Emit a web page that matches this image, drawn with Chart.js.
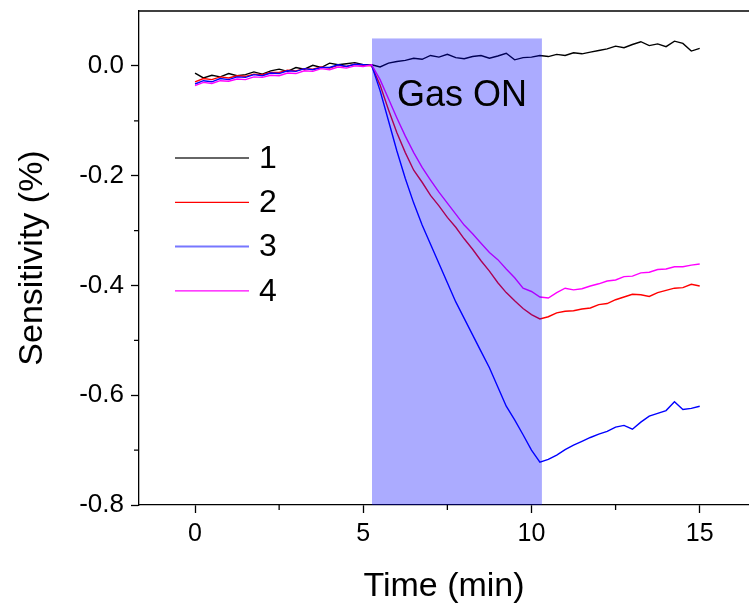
<!DOCTYPE html>
<html>
<head>
<meta charset="utf-8">
<script src="https://cdn.jsdelivr.net/npm/chart.js@4"></script>
<style>
  body { margin: 0; background: #fff; }
  #wrap { width: 749px; height: 612px; }
</style>
</head>
<body>
<div id="wrap"><canvas id="chart"></canvas></div>
<script>
var times = [0, 0.25, 0.5, 0.75, 1, 1.25, 1.5, 1.75, 2, 2.25, 2.5, 2.75, 3, 3.25, 3.5, 3.75, 4, 4.25, 4.5, 4.75,
  5, 5.25, 5.5, 5.75, 6, 6.25, 6.5, 6.75, 7, 7.25, 7.5, 7.75, 8, 8.25, 8.5, 8.75, 9, 9.25, 9.5, 9.75,
  10, 10.25, 10.5, 10.75, 11, 11.25, 11.5, 11.75, 12, 12.25, 12.5, 12.75, 13, 13.25, 13.5, 13.75, 14, 14.25, 14.5, 14.75, 15];

var seriesNames = ['1', '2', '3', '4'];

var s1 = [-0.013, -0.022, -0.017, -0.020, -0.014, -0.018, -0.016, -0.011, -0.015, -0.009, -0.006, -0.010, -0.003, -0.006, 0.001, -0.003, 0.005, 0.002, 0.004, 0.006, 0.002, 0.002,
  -0.002, 0.005, 0.008, 0.010, 0.014, 0.012, 0.019, 0.016, 0.021, 0.015, 0.013, 0.017, 0.019, 0.014, 0.018, 0.023, 0.011, 0.015, 0.016, 0.019,
  0.017, 0.021, 0.019, 0.024, 0.022, 0.025, 0.028, 0.031, 0.036, 0.033, 0.039, 0.044, 0.037, 0.040, 0.035, 0.045, 0.041, 0.027, 0.032];

var s2 = [-0.029, -0.023, -0.025, -0.020, -0.022, -0.018, -0.019, -0.015, -0.016, -0.012, -0.012, -0.008, -0.009, -0.005, -0.006, -0.002, -0.004, 0.001, -0.001, 0.003, 0.001, 0.000,
  -0.035, -0.080, -0.122, -0.158, -0.190, -0.212, -0.236, -0.255, -0.276, -0.294, -0.315, -0.334, -0.355, -0.374, -0.395, -0.413, -0.428, -0.442, -0.453, -0.461,
  -0.457, -0.450, -0.447, -0.446, -0.443, -0.441, -0.435, -0.433, -0.426, -0.421, -0.416, -0.417, -0.420, -0.413, -0.409, -0.405, -0.404, -0.398, -0.401];

var s3 = [-0.033, -0.027, -0.029, -0.023, -0.025, -0.020, -0.021, -0.016, -0.018, -0.013, -0.014, -0.009, -0.010, -0.005, -0.007, -0.003, -0.003, 0.002, -0.001, 0.003, 0.002, 0.001,
  -0.045, -0.100, -0.155, -0.205, -0.250, -0.290, -0.325, -0.360, -0.395, -0.430, -0.460, -0.490, -0.520, -0.550, -0.585, -0.620, -0.645, -0.672, -0.700, -0.722,
  -0.717, -0.709, -0.699, -0.691, -0.684, -0.677, -0.671, -0.666, -0.658, -0.655, -0.662, -0.649, -0.638, -0.633, -0.628, -0.612, -0.626, -0.624, -0.620];

var s4 = [-0.036, -0.030, -0.032, -0.027, -0.028, -0.024, -0.025, -0.020, -0.021, -0.017, -0.018, -0.013, -0.014, -0.009, -0.010, -0.005, -0.007, -0.002, -0.004, 0.000, -0.001, 0.002,
  -0.025, -0.060, -0.095, -0.128, -0.158, -0.185, -0.208, -0.230, -0.250, -0.270, -0.290, -0.306, -0.323, -0.340, -0.353, -0.370, -0.386, -0.405, -0.411, -0.421,
  -0.423, -0.413, -0.405, -0.408, -0.406, -0.401, -0.397, -0.392, -0.390, -0.384, -0.383, -0.377, -0.376, -0.371, -0.370, -0.366, -0.366, -0.363, -0.361];

var xTicks = [0, 5, 10, 15];
var xMinor = [2.5, 7.5, 12.5];
var yTicks = [-0.8, -0.6, -0.4, -0.2, 0.0];
var yMinor = [-0.7, -0.5, -0.3, -0.1];
var gasOn = [5.26, 10.31];
var gasTop = 0.05;

var colors = ['#000000', '#ff0000', '#0000ff', '#ff00ff'];
var legendColors = ['#333333', '#ff0000', '#7777ff', '#ff00ff'];
var font = 'Liberation Sans, Arial, sans-serif';

function pts(vals) {
  return vals.map(function (v, i) { return { x: times[i], y: v }; });
}

var extras = {
  id: 'extras',
  afterDatasetsDraw: function (chart) {
    var c = chart.ctx, a = chart.chartArea;
    var xs = chart.scales.x, ys = chart.scales.y;
    c.save();
    // shaded gas-on window, drawn over the traces
    var x0 = xs.getPixelForValue(gasOn[0]), x1 = xs.getPixelForValue(gasOn[1]);
    var y0 = ys.getPixelForValue(gasTop), y1 = ys.getPixelForValue(-0.8);
    c.fillStyle = 'rgba(0,0,255,0.33)';
    c.fillRect(x0, y0, x1 - x0, y1 - y0);
    c.fillStyle = '#000';
    c.font = '36px ' + font;
    c.textAlign = 'center';
    c.textBaseline = 'middle';
    c.fillText('Gas ON', (x0 + x1) / 2 + 5, y0 + 58);

    // top frame line
    c.strokeStyle = '#000';
    c.lineWidth = 1.3;
    c.beginPath();
    c.moveTo(a.left, a.top);
    c.lineTo(a.right, a.top);
    c.stroke();

    // minor ticks
    c.beginPath();
    xMinor.forEach(function (v) {
      var p = xs.getPixelForValue(v);
      c.moveTo(p, a.bottom);
      c.lineTo(p, a.bottom + 5);
    });
    yMinor.forEach(function (v) {
      var p = ys.getPixelForValue(v);
      c.moveTo(a.left, p);
      c.lineTo(a.left - 5, p);
    });
    c.stroke();

    // legend
    c.font = '32px ' + font;
    c.textAlign = 'left';
    c.textBaseline = 'middle';
    chart.data.datasets.forEach(function (ds, i) {
      var ly = a.top + 147 + i * 44.3;
      c.strokeStyle = legendColors[i];
      c.lineWidth = i === 2 ? 2 : 1.3;
      c.beginPath();
      c.moveTo(a.left + 36, ly);
      c.lineTo(a.left + 110, ly);
      c.stroke();
      c.fillStyle = '#000';
      c.fillText(ds.label, a.left + 120, ly + 1);
    });
    c.restore();
  }
};

var ctx = document.getElementById('chart').getContext('2d');
var myChart = new Chart(ctx, {
  type: 'line',
  data: {
    datasets: [
      { label: seriesNames[0], data: pts(s1), borderColor: colors[0], order: 4 },
      { label: seriesNames[1], data: pts(s2), borderColor: colors[1], order: 3 },
      { label: seriesNames[2], data: pts(s3), borderColor: colors[2], order: 2 },
      { label: seriesNames[3], data: pts(s4), borderColor: colors[3], order: 1 }
    ]
  },
  options: {
    responsive: true,
    maintainAspectRatio: false,
    animation: false,
    elements: {
      point: { radius: 0 },
      line: { borderWidth: 1.4, tension: 0 }
    },
    layout: { padding: { top: 11, right: 0, left: 0, bottom: 0 } },
    plugins: { legend: { display: false }, tooltip: { enabled: false } },
    scales: {
      x: {
        type: 'linear',
        min: -1.665,
        max: 16.465,
        afterBuildTicks: function (s) { s.ticks = xTicks.map(function (v) { return { value: v }; }); },
        afterFit: function (s) { s.height = 107; s.paddingLeft = 0; s.paddingRight = 0; },
        border: { color: '#000', width: 1.3 },
        grid: { drawOnChartArea: false, color: '#000', tickLength: 8, tickWidth: 1.3 },
        ticks: { color: '#000', font: { family: font, size: 25 }, padding: 6, maxRotation: 0 },
        title: { display: true, text: 'Time (min)', color: '#000', font: { family: font, size: 34 }, padding: { top: 0, bottom: 5 } }
      },
      y: {
        min: -0.8,
        max: 0.1,
        afterBuildTicks: function (s) { s.ticks = yTicks.map(function (v) { return { value: v }; }); },
        afterFit: function (s) { s.width = 139; s.paddingTop = 0; s.paddingBottom = 0; },
        border: { color: '#000', width: 1.3 },
        grid: { drawOnChartArea: false, color: '#000', tickLength: 8, tickWidth: 1.3 },
        ticks: {
          color: '#000', font: { family: font, size: 26 }, padding: 7,
          callback: function (v) { return v.toFixed(1); }
        },
        title: { display: true, text: 'Sensitivity (%)', color: '#000', font: { family: font, size: 34 }, padding: { top: 12, bottom: 0 } }
      }
    }
  },
  plugins: [extras]
});
</script>
</body>
</html>
